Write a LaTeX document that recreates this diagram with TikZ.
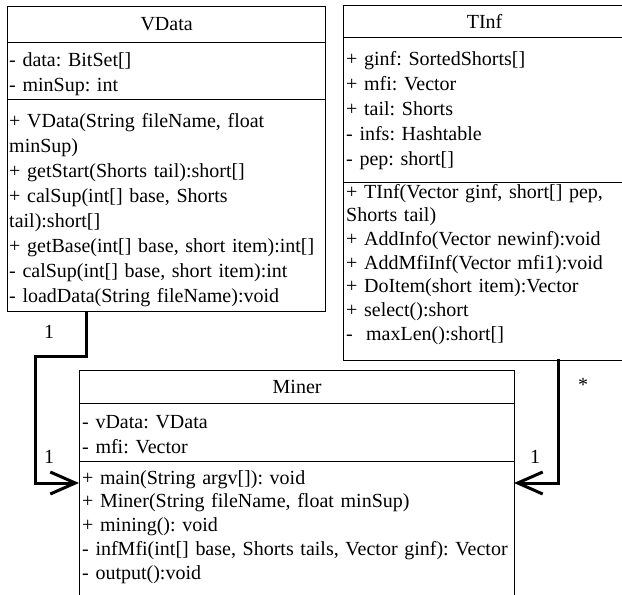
\documentclass[tikz,border=0pt]{standalone}
\usepackage{fontspec}
\setmainfont{Liberation Serif}
\frenchspacing
\usetikzlibrary{arrows.meta}

\begin{document}
\begin{tikzpicture}[x=1pt, y=-1pt,
  box/.style={draw, line width=1.2pt, anchor=north west, inner sep=0pt},
  title/.style={font=\fontsize{20}{24}\selectfont},
  member/.style={anchor=base west, inner sep=0pt, text width=#1, align=left},
  member/.default=500pt,
  link/.style={line width=3pt, -{Straight Barb[length=25pt, width=22pt, line width=3pt]}},
  mult/.style={font=\fontsize{20}{24}\selectfont}]

\useasboundingbox (0,0) rectangle (622,595);
\clip (0,0) rectangle (622,595);

% VData
\node (vdataT)[box, title, minimum width=318pt, minimum height=36pt] at (7,6) {VData};
\node (vdataA)[box, minimum width=318pt, minimum height=57pt] at (7,42) {};
\node (vdataM)[box, minimum width=318pt, minimum height=212pt] at (7,99) {};
\node (vdataAt)[member, font=\fontsize{20}{25.5}\selectfont] at (9,66)
  {- data: BitSet[]\\- minSup: int};
\node (vdataMt)[member, font=\fontsize{20}{25}\selectfont] at (9,127)
  {+ VData(String fileName, float\\minSup)\\+ getStart(Shorts tail):short[]\\
   + calSup(int[] base, Shorts\\tail):short[]\\+ getBase(int[] base, short item):int[]\\
   - calSup(int[] base, short item):int\\- loadData(String fileName):void};

% TInf
\node (tinfT)[box, title, minimum width=300pt, minimum height=32pt] at (343,5) {\hspace*{-18pt}TInf};
\node (tinfA)[box, minimum width=300pt, minimum height=145pt] at (343,37) {};
\node (tinfM)[box, minimum width=300pt, minimum height=178pt] at (343,182) {};
\node (tinfAt)[member, font=\fontsize{20}{25}\selectfont] at (346,65)
  {+ ginf: SortedShorts[]\\+ mfi: Vector\\+ tail: Shorts\\- infs: Hashtable\\- pep: short[]};
\node (tinfMt)[member, font=\fontsize{20}{23.7}\selectfont] at (346,198)
  {+ TInf(Vector ginf, short[] pep,\\Shorts tail)\\+ AddInfo(Vector newinf):void\\
   + AddMfiInf(Vector mfi1):void\\+ DoItem(short item):Vector\\+ select():short\\
   -\ \ maxLen():short[]};

% Miner
\node (minerT)[box, title, minimum width=435pt, minimum height=33pt] at (79,370) {Miner};
\node (minerA)[box, minimum width=435pt, minimum height=58pt] at (79,403) {};
\node (minerM)[box, minimum width=435pt, minimum height=180pt] at (79,461) {};
\node (minerAt)[member, font=\fontsize{20}{25}\selectfont] at (82,428)
  {- vData: VData\\- mfi: Vector};
\node (minerMt)[member, font=\fontsize{20}{23.8}\selectfont] at (82,484)
  {+ main(String argv[]): void\\+ Miner(String fileName, float minSup)\\+ mining(): void\\
   - infMfi(int[] base, Shorts tails, Vector ginf): Vector\\- output():void};

% associations
\coordinate (vout) at (86,311);
\coordinate (vturn) at (35,356);
\coordinate (minL) at (79,483);
\coordinate (tout) at (558,359);
\coordinate (minR) at (514,483);

\draw[link] (vout) |- (vturn) |- (minL);
\draw[link] (tout) |- (minR);

\node (m1)[mult] at (49,332) {1};
\node (m2)[mult] at (49,457) {1};
\node (m3)[mult] at (583,385) {*};
\node (m4)[mult] at (535,457) {1};

\end{tikzpicture}
\end{document}
